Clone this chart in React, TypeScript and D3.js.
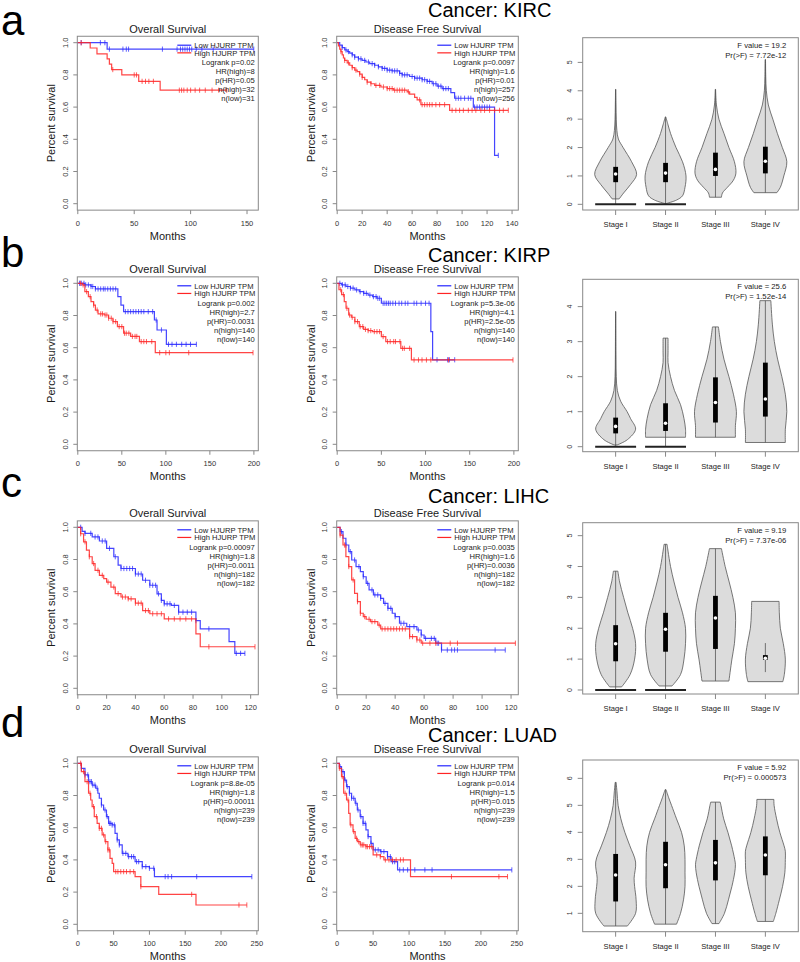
import React from "react";
import * as d3 from "d3";

const FONT = "'Liberation Sans', Arial, Helvetica, sans-serif";

const panelLetters = ["a", "b", "c", "d"];
const cancers = ["KIRC", "KIRP", "LIHC", "LUAD"];
const stageLabels = ["Stage I", "Stage II", "Stage III", "Stage IV"];
const legendLabels = ["Low HJURP TPM", "High HJURP TPM"];

// ---- KM statistics ----
const osStats = [
  ["Logrank p=0.02", "HR(high)=8", "p(HR)=0.05", "n(high)=32", "n(low)=31"],
  ["Logrank p=0.002", "HR(high)=2.7", "p(HR)=0.0031", "n(high)=140", "n(low)=140"],
  ["Logrank p=0.00097", "HR(high)=1.8", "p(HR)=0.0011", "n(high)=182", "n(low)=182"],
  ["Logrank p=8.8e-05", "HR(high)=1.8", "p(HR)=0.00011", "n(high)=239", "n(low)=239"],
];
const dfsStats = [
  ["Logrank p=0.0097", "HR(high)=1.6", "p(HR)=0.01", "n(high)=257", "n(low)=256"],
  ["Logrank p=5.3e-06", "HR(high)=4.1", "p(HR)=2.5e-05", "n(high)=140", "n(low)=140"],
  ["Logrank p=0.0035", "HR(high)=1.6", "p(HR)=0.0036", "n(high)=182", "n(low)=182"],
  ["Logrank p=0.014", "HR(high)=1.5", "p(HR)=0.015", "n(high)=239", "n(low)=239"],
];
const osXMax = [160, 205, 125.3, 252];
const dfsXMax = [145, 205, 125, 252];
const osXTicks = [[0, 50, 100, 150], [0, 50, 100, 150, 200], [0, 20, 40, 60, 80, 100, 120], [0, 50, 100, 150, 200, 250]];
const dfsXTicks = [[0, 20, 40, 60, 80, 100, 120, 140], [0, 50, 100, 150, 200], [0, 20, 40, 60, 80, 100, 120], [0, 50, 100, 150, 200, 250]];
const survTicks = [0, 0.2, 0.4, 0.6, 0.8, 1.0];

// ---- KM curves: [month, survival after drop], end month, censor months ----
const kircOsLow = [[26, 0.96]];
const kircOsLowEnd = 156;
const kircOsLowCens = [3, 20, 24, 28, 40, 43, 45, 75, 88, 91, 93, 95, 97, 99, 101, 105, 110, 120, 156];
const kircOsHigh = [[11, 0.967], [17, 0.93], [26, 0.9], [28, 0.867], [30, 0.833], [39, 0.8], [54, 0.76], [73, 0.705]];
const kircOsHighEnd = 132;
const kircOsHighCens = [3, 31, 50, 52, 57, 60, 63, 67, 90, 92, 94, 97, 100, 104, 108, 113, 119, 125, 132];

const kircDfsLow = [[2, 0.985], [4, 0.97], [6, 0.955], [8, 0.945], [10, 0.935], [12, 0.925], [14, 0.91], [17, 0.9], [20, 0.89], [23, 0.88], [26, 0.87], [30, 0.86], [33, 0.85], [36, 0.84], [40, 0.83], [44, 0.825], [50, 0.81], [52, 0.8], [58, 0.79], [62, 0.78], [68, 0.77], [72, 0.76], [76, 0.745], [80, 0.73], [84, 0.715], [91, 0.69], [94, 0.655], [109, 0.6], [126, 0.3]];
const kircDfsLowEnd = 129;
const kircDfsLowCens = [4, 7, 9, 12, 14, 17, 19, 22, 25, 28, 30, 33, 36, 38, 40, 42, 44, 46, 48, 50, 52, 54, 56, 60, 62, 64, 66, 68, 70, 72, 74, 77, 79, 81, 83, 85, 87, 89, 95, 97, 99, 102, 105, 107, 110, 112, 114, 116, 118, 120, 122, 129];
const kircDfsHigh = [[1, 0.98], [2, 0.96], [3, 0.945], [4, 0.925], [5, 0.905], [6, 0.89], [8, 0.875], [10, 0.86], [12, 0.845], [14, 0.83], [16, 0.82], [18, 0.805], [20, 0.785], [22, 0.77], [24, 0.755], [27, 0.745], [30, 0.735], [35, 0.725], [40, 0.715], [45, 0.705], [56, 0.695], [58, 0.68], [62, 0.66], [64, 0.645], [67, 0.615], [90, 0.58]];
const kircDfsHighEnd = 137;
const kircDfsHighCens = [3, 6, 9, 12, 15, 18, 20, 24, 27, 31, 34, 37, 40, 42, 44, 46, 48, 50, 52, 54, 57, 66, 68, 70, 72, 74, 76, 79, 82, 86, 92, 95, 98, 101, 105, 108, 111, 115, 118, 122, 126, 130, 133, 137];

const kirpOsLow = [[8, 0.99], [15, 0.98], [20, 0.965], [45.5, 0.917], [49, 0.865], [52, 0.824], [87, 0.772], [90, 0.71], [100.6, 0.621]];
const kirpOsLowEnd = 134.7;
const kirpOsLowCens = [2, 4, 7, 9, 12, 15, 17, 20, 23, 26, 29, 31, 34, 37, 40, 43, 54, 57, 60, 63, 66, 69, 72, 75, 80, 85, 89, 95, 103, 107, 112, 118, 123, 128, 134.7];
const kirpOsHigh = [[5, 0.99], [8, 0.948], [12, 0.917], [15, 0.886], [18, 0.865], [20, 0.834], [23, 0.81], [30, 0.803], [35, 0.783], [40, 0.762], [45, 0.731], [52, 0.69], [60, 0.67], [70, 0.638], [88, 0.569]];
const kirpOsHighEnd = 199;
const kirpOsHighCens = [3, 6, 10, 14, 18, 22, 26, 28, 31, 33, 35, 38, 40, 43, 47, 50, 53, 55, 58, 62, 65, 67, 72, 75, 78, 84, 93, 100, 104, 126, 199];

const kirpDfsLow = [[5, 0.99], [10, 0.98], [15, 0.97], [20, 0.959], [25, 0.948], [30, 0.938], [35, 0.927], [40, 0.917], [45, 0.907], [50, 0.876], [106, 0.7], [108, 0.525]];
const kirpDfsLowEnd = 133;
const kirpDfsLowCens = [3, 6, 9, 12, 15, 18, 22, 26, 30, 33, 37, 41, 44, 46, 48, 52, 54, 56, 58, 60, 63, 66, 70, 73, 77, 80, 87, 90, 95, 100, 104, 113, 125, 127, 133];
const kirpDfsHigh = [[2, 0.96], [5, 0.93], [8, 0.886], [10, 0.845], [13, 0.803], [16, 0.789], [20, 0.762], [25, 0.731], [30, 0.714], [35, 0.706], [40, 0.7], [50, 0.669], [55, 0.638], [72, 0.596], [84, 0.524]];
const kirpDfsHighEnd = 199;
const kirpDfsHighCens = [4, 7, 11, 14, 17, 20, 23, 26, 29, 32, 35, 38, 42, 45, 48, 52, 57, 60, 64, 66, 71, 74, 76, 82, 87, 92, 96, 101, 106, 126, 199];

const lihcOsLow = [[3, 0.975], [5, 0.9625], [10, 0.94], [15, 0.915], [20, 0.869], [25, 0.817], [28, 0.765], [30, 0.744], [40, 0.71], [45, 0.671], [50, 0.64], [55, 0.587], [58, 0.546], [60, 0.525], [65, 0.515], [70, 0.473], [82, 0.42], [85, 0.369], [105, 0.29], [109, 0.217]];
const lihcOsLowEnd = 116;
const lihcOsLowCens = [2, 5, 9, 12, 14, 17, 19, 22, 26, 30, 32, 34, 36, 38, 40, 42, 44, 47, 50, 52, 54, 56, 58, 60, 62, 64, 67, 70, 73, 76, 79, 82, 91, 110, 113, 116];
const lihcOsHigh = [[2, 0.96], [4, 0.91], [6, 0.858], [8, 0.817], [10, 0.775], [12, 0.733], [15, 0.702], [18, 0.681], [20, 0.66], [23, 0.629], [26, 0.588], [30, 0.567], [35, 0.556], [40, 0.529], [45, 0.483], [50, 0.463], [60, 0.431], [82, 0.3375], [85, 0.258]];
const lihcOsHighEnd = 123;
const lihcOsHighCens = [2, 5, 8, 11, 14, 17, 21, 25, 28, 31, 33, 35, 37, 40, 42, 44, 47, 49, 52, 55, 58, 63, 67, 71, 75, 79, 91, 123];

const lihcDfsLow = [[2, 0.973], [4, 0.932], [6, 0.89], [8, 0.849], [10, 0.797], [13, 0.756], [16, 0.725], [18, 0.693], [20, 0.652], [22, 0.611], [25, 0.58], [30, 0.559], [32, 0.528], [35, 0.497], [38, 0.466], [40, 0.445], [43, 0.404], [48, 0.383], [55, 0.362], [58, 0.331], [60, 0.31], [68, 0.28], [72, 0.238]];
const lihcDfsLowEnd = 116;
const lihcDfsLowCens = [3, 6, 9, 12, 15, 18, 21, 24, 26, 28, 30, 33, 35, 37, 40, 44, 46, 50, 53, 56, 58, 61, 65, 67, 69, 70, 72, 76, 79, 81, 83, 109, 116];
const lihcDfsHigh = [[2, 0.952], [4, 0.89], [6, 0.818], [8, 0.756], [10, 0.673], [12, 0.59], [14, 0.538], [16, 0.466], [18, 0.445], [20, 0.429], [23, 0.414], [28, 0.393], [30, 0.369], [50, 0.321], [55, 0.3], [58, 0.28]];
const lihcDfsHighEnd = 123;
const lihcDfsHighCens = [2, 5, 8, 11, 14, 16, 19, 22, 24, 26, 29, 31, 33, 35, 37, 39, 41, 43, 45, 47, 50, 52, 55, 57, 59, 64, 68, 78, 83, 123];

const luadOsLow = [[5, 0.969], [10, 0.928], [15, 0.886], [20, 0.865], [25, 0.845], [28, 0.814], [30, 0.783], [33, 0.741], [36, 0.71], [40, 0.669], [43, 0.627], [48, 0.617], [52, 0.565], [55, 0.524], [58, 0.493], [62, 0.441], [70, 0.42], [80, 0.389], [90, 0.358], [100, 0.348], [107, 0.296]];
const luadOsLowEnd = 243;
const luadOsLowCens = [5, 10, 14, 17, 19, 21, 24, 27, 33, 38, 41, 44, 46, 48, 51, 55, 58, 63, 67, 71, 75, 78, 82, 85, 90, 95, 100, 106, 122, 126, 131, 166, 243];
const luadOsHigh = [[5, 0.948], [10, 0.886], [15, 0.814], [18, 0.772], [20, 0.731], [23, 0.669], [27, 0.627], [30, 0.596], [34, 0.555], [38, 0.513], [42, 0.462], [45, 0.41], [48, 0.379], [50, 0.327], [80, 0.296], [88, 0.234], [113, 0.186], [165, 0.12]];
const luadOsHighEnd = 236;
const luadOsHighCens = [4, 8, 13, 17, 22, 26, 30, 33, 36, 39, 42, 44, 53, 56, 60, 64, 68, 73, 78, 88, 159, 225, 236];

const luadDfsLow = [[3, 0.979], [6, 0.948], [10, 0.896], [13, 0.855], [17, 0.814], [20, 0.783], [25, 0.752], [28, 0.71], [32, 0.669], [36, 0.627], [40, 0.586], [43, 0.545], [47, 0.503], [50, 0.462], [60, 0.451], [70, 0.42], [75, 0.389], [84, 0.338]];
const luadDfsLowEnd = 243;
const luadDfsLowCens = [4, 8, 11, 14, 17, 20, 23, 26, 29, 33, 36, 39, 43, 47, 53, 57, 61, 65, 70, 74, 77, 80, 87, 92, 98, 108, 122, 132, 243];
const luadDfsHigh = [[3, 0.969], [6, 0.917], [9, 0.814], [13, 0.772], [16, 0.689], [18, 0.617], [22, 0.576], [25, 0.534], [28, 0.513], [32, 0.493], [40, 0.482], [50, 0.431], [60, 0.42], [65, 0.4], [102, 0.296]];
const luadDfsHighEnd = 237;
const luadDfsHighCens = [3, 7, 11, 15, 19, 23, 27, 30, 33, 35, 37, 40, 42, 45, 48, 55, 60, 67, 72, 77, 82, 88, 92, 159, 225, 237];

const osCurves = [
  [[kircOsLow, kircOsLowEnd, kircOsLowCens], [kircOsHigh, kircOsHighEnd, kircOsHighCens]],
  [[kirpOsLow, kirpOsLowEnd, kirpOsLowCens], [kirpOsHigh, kirpOsHighEnd, kirpOsHighCens]],
  [[lihcOsLow, lihcOsLowEnd, lihcOsLowCens], [lihcOsHigh, lihcOsHighEnd, lihcOsHighCens]],
  [[luadOsLow, luadOsLowEnd, luadOsLowCens], [luadOsHigh, luadOsHighEnd, luadOsHighCens]],
];
const dfsCurves = [
  [[kircDfsLow, kircDfsLowEnd, kircDfsLowCens], [kircDfsHigh, kircDfsHighEnd, kircDfsHighCens]],
  [[kirpDfsLow, kirpDfsLowEnd, kirpDfsLowCens], [kirpDfsHigh, kirpDfsHighEnd, kirpDfsHighCens]],
  [[lihcDfsLow, lihcDfsLowEnd, lihcDfsLowCens], [lihcDfsHigh, lihcDfsHighEnd, lihcDfsHighCens]],
  [[luadDfsLow, luadDfsLowEnd, luadDfsLowCens], [luadDfsHigh, luadDfsHighEnd, luadDfsHighCens]],
];

// ---- Violin data: outline [value, half width in category units]; stats [lo, q1, median, q3, hi] ----
const fValues = ["19.2", "25.6", "9.19", "5.92"];
const prValues = ["7.72e-12", "1.52e-14", "7.37e-06", "0.000573"];
const vioYTicks = [[0, 1, 2, 3, 4, 5], [0, 1, 2, 3, 4], [0, 1, 2, 3, 4, 5], [1, 2, 3, 4, 5, 6]];
const vioYDomain = [[-0.2, 5.87], [-0.143, 4.78], [-0.13, 5.42], [0.32, 6.68]];

const kircViolins = [
  [[0.19, 0.07], [0.4, 0.16], [0.7, 0.3], [1.05, 0.42], [1.5, 0.32], [2.0, 0.15], [2.3, 0.055], [2.6, 0.025], [3.0, 0.012], [3.5, 0.006], [4.05, 0.002]],
  [[0.03, 0.02], [0.15, 0.22], [0.3, 0.34], [0.6, 0.39], [1.0, 0.41], [1.5, 0.34], [2.0, 0.21], [2.5, 0.1], [2.8, 0.05], [3.08, 0.005]],
  [[0.25, 0.12], [0.4, 0.14], [0.6, 0.24], [0.85, 0.36], [1.1, 0.41], [1.5, 0.38], [2.0, 0.27], [2.5, 0.17], [3.0, 0.07], [3.5, 0.02], [4.05, 0.003]],
  [[0.41, 0.23], [0.6, 0.3], [1.0, 0.37], [1.5, 0.43], [2.0, 0.34], [2.5, 0.24], [3.0, 0.15], [3.5, 0.06], [4.0, 0.02], [4.5, 0.008], [5.1, 0.003]],
];
const kircBoxStats = [[0, 0.78, 1.07, 1.32, 4.05], [0, 0.78, 1.1, 1.46, 3.08], [0.25, 1.0, 1.23, 1.82, 4.05], [0.41, 1.09, 1.52, 2.03, 5.1]];
const kirpViolins = [
  [[0.05, 0.03], [0.2, 0.235], [0.5, 0.4], [0.8, 0.3], [1.0, 0.23], [1.3, 0.1], [1.6, 0.035], [2.0, 0.012], [2.5, 0.006], [3.0, 0.004], [3.86, 0.002]],
  [[0.27, 0.4], [0.5, 0.4], [0.8, 0.37], [1.2, 0.3], [1.6, 0.18], [2.0, 0.1], [2.4, 0.05], [2.7, 0.05], [3.1, 0.05]],
  [[0.27, 0.4], [0.6, 0.4], [1.0, 0.42], [1.5, 0.36], [2.0, 0.27], [2.5, 0.17], [3.0, 0.1], [3.42, 0.06]],
  [[0.12, 0.4], [0.5, 0.4], [1.0, 0.43], [1.5, 0.4], [2.0, 0.33], [2.5, 0.245], [3.0, 0.18], [3.5, 0.14], [4.17, 0.11]],
];
const kirpBoxStats = [[0, 0.38, 0.58, 0.83, 3.86], [0, 0.45, 0.67, 1.24, 3.1], [0.27, 0.69, 1.26, 1.98, 3.42], [0.12, 0.86, 1.36, 2.4, 4.17]];
const lihcViolins = [
  [[0.1, 0.12], [0.5, 0.29], [1.0, 0.38], [1.5, 0.4], [2.0, 0.34], [2.5, 0.245], [3.0, 0.16], [3.5, 0.08], [3.85, 0.045]],
  [[0.13, 0.13], [0.5, 0.3], [1.0, 0.37], [1.5, 0.4], [2.0, 0.4], [2.5, 0.34], [3.0, 0.25], [3.5, 0.17], [4.0, 0.1], [4.5, 0.05], [4.72, 0.03]],
  [[0.29, 0.27], [1.0, 0.33], [1.5, 0.38], [2.0, 0.4], [2.5, 0.4], [3.0, 0.35], [3.5, 0.275], [4.0, 0.195], [4.58, 0.12]],
  [[0.27, 0.35], [0.5, 0.38], [1.0, 0.4], [1.5, 0.36], [2.0, 0.3], [2.5, 0.28], [2.87, 0.275]],
];
const lihcBoxStats = [[0, 0.93, 1.5, 2.1, 3.85], [0, 1.24, 1.97, 2.5, 4.72], [0.29, 1.33, 2.33, 3.05, 4.58], [0.58, 0.98, 1.03, 1.13, 1.52]];
const luadViolins = [
  [[0.53, 0.235], [1.0, 0.4], [1.5, 0.41], [2.0, 0.38], [2.3, 0.37], [2.9, 0.4], [3.5, 0.285], [4.0, 0.185], [4.5, 0.105], [5.0, 0.05], [5.5, 0.027], [5.85, 0.01]],
  [[0.6, 0.22], [1.0, 0.3], [1.5, 0.36], [2.0, 0.39], [2.5, 0.39], [3.0, 0.39], [3.5, 0.375], [4.0, 0.32], [4.5, 0.22], [5.0, 0.12], [5.3, 0.06], [5.58, 0.01]],
  [[0.62, 0.07], [1.0, 0.18], [1.5, 0.26], [2.0, 0.33], [2.5, 0.385], [2.8, 0.4], [3.0, 0.385], [3.5, 0.325], [4.0, 0.25], [4.5, 0.165], [5.0, 0.11], [5.12, 0.095]],
  [[0.7, 0.16], [1.0, 0.21], [1.5, 0.28], [2.0, 0.345], [2.5, 0.39], [3.0, 0.4], [3.3, 0.4], [3.5, 0.375], [4.0, 0.29], [4.5, 0.225], [5.0, 0.175], [5.22, 0.17]],
];
const luadBoxStats = [[0.53, 1.44, 2.42, 3.2, 5.85], [0.6, 1.93, 2.8, 3.65, 5.58], [0.62, 2.22, 2.87, 3.72, 5.12], [0.7, 2.41, 3.16, 3.85, 5.22]];
const zeroGroups = [[true, true, false, false], [true, true, false, false], [true, true, false, false], [false, false, false, false]];

const allViolins = [kircViolins, kirpViolins, lihcViolins, luadViolins];
const allBoxStats = [kircBoxStats, kirpBoxStats, lihcBoxStats, luadBoxStats];

// ---- layout ----
const W = 800, H = 962;
const rowY1 = [42.7, 283.3, 527.3, 763.3];
const KM_SPAN = 161;
const LEFT_BOX = [77.3, 258.3];
const MID_BOX = [336.7, 518.3];
const VIO_BOX_X = [582.7, 798.3];
const vioBoxY = [[37.7, 210], [279.3, 451.7], [522.7, 694], [760, 931.7]];
const letterY = [35, 267, 497, 737];
const cancerY = [17, 262, 503, 742];

const BLUE = "#2424ff";
const RED = "#ff2424";
const AXIS = "#888";
const TXT = "#1a1a1a";

function survAt(steps: number[][], t: number) {
  let s = 1;
  for (const [st, sv] of steps) {
    if (st <= t) s = sv;
    else break;
  }
  return s;
}

function KMPanel({ box, y1, xMax, xTicks, title, curves, stats }: any) {
  const [bl, br] = box;
  const top = y1 - 0.04 * KM_SPAN;
  const bottom = y1 + KM_SPAN + 0.04 * KM_SPAN;
  const xs = d3.scaleLinear().domain([0, xMax]).range([bl + 0.5, br]);
  const ys = d3.scaleLinear().domain([-0.04, 1.04]).range([bottom, top]);
  const line = d3
    .line<number[]>()
    .x((d) => xs(d[0]))
    .y((d) => ys(d[1]))
    .curve(d3.curveStepAfter);
  const cx = (bl + br) / 2;
  const colors = [BLUE, RED];
  const legY = ys(1) + 2.5;
  const lh = 9;
  return (
    <g>
      <text x={cx} y={top - 3.5} textAnchor="middle" fontSize={11} fill={TXT}>{title}</text>
      <rect x={bl} y={top} width={br - bl} height={bottom - top} fill="none" stroke={AXIS} strokeWidth={1} />
      {survTicks.map((v) => (
        <g key={v}>
          <line x1={bl - 4} x2={bl} y1={ys(v)} y2={ys(v)} stroke={AXIS} />
          <text transform={`translate(${bl - 9.5},${ys(v)}) rotate(-90)`} textAnchor="middle" fontSize={7.5} fill="#333">{v.toFixed(1)}</text>
        </g>
      ))}
      {xTicks.map((v: number) => (
        <g key={v}>
          <line x1={xs(v)} x2={xs(v)} y1={bottom} y2={bottom + 4} stroke={AXIS} />
          <text x={xs(v)} y={bottom + 15.5} textAnchor="middle" fontSize={7.5} fill="#333">{v}</text>
        </g>
      ))}
      <text transform={`translate(${bl - 22},${(top + bottom) / 2}) rotate(-90)`} textAnchor="middle" fontSize={11} fill={TXT}>Percent survival</text>
      <text x={cx} y={bottom + 29.5} textAnchor="middle" fontSize={11} fill={TXT}>Months</text>
      {curves.map((c: any, i: number) => {
        const [steps, end, cens] = c;
        const last = steps.length ? steps[steps.length - 1][1] : 1;
        const pts = [[0, 1], ...steps, [end, last]];
        return (
          <g key={i}>
            <path d={line(pts) || ""} fill="none" stroke={colors[i]} strokeWidth={1.2} strokeOpacity={0.85} />
            {cens.map((t: number, j: number) => {
              const s = survAt(steps, t);
              return <line key={j} x1={xs(t)} x2={xs(t)} y1={ys(s) - 2.6} y2={ys(s) + 2.6} stroke={colors[i]} strokeWidth={0.9} strokeOpacity={0.8} />;
            })}
          </g>
        );
      })}
      {legendLabels.map((lab, i) => (
        <g key={lab}>
          <line x1={br - 81} x2={br - 67} y1={legY + i * lh * 0.85} y2={legY + i * lh * 0.85} stroke={colors[i]} strokeWidth={1.2} />
          <text x={br - 64} y={legY + i * lh * 0.85 + 2.7} fontSize={7.6} fill="#222">{lab}</text>
        </g>
      ))}
      {stats.map((s: string, i: number) => (
        <text key={s} x={br - 3.5} y={legY + (i + 2) * lh - 1 + 2.7} textAnchor="end" fontSize={7.6} fill="#222">{s}</text>
      ))}
    </g>
  );
}

function ViolinPanel({ row }: { row: number }) {
  const [bt, bb] = vioBoxY[row];
  const xs = d3.scaleLinear().domain([0.34, 4.66]).range(VIO_BOX_X);
  const ys = d3.scaleLinear().domain(vioYDomain[row]).range([bb, bt]);
  const unit = xs(1) - xs(0);
  const violins = allViolins[row];
  const stats = allBoxStats[row];
  const [bl, br] = VIO_BOX_X;
  return (
    <g>
      <rect x={bl} y={bt} width={br - bl} height={bb - bt} fill="none" stroke={AXIS} strokeWidth={1} />
      {vioYTicks[row].map((v) => (
        <g key={v}>
          <line x1={bl - 5} x2={bl} y1={ys(v)} y2={ys(v)} stroke={AXIS} />
          <text transform={`translate(${bl - 11},${ys(v)}) rotate(-90)`} textAnchor="middle" fontSize={7} fill="#333">{v}</text>
        </g>
      ))}
      {stageLabels.map((lab, i) => (
        <g key={lab}>
          <line x1={xs(i + 1)} x2={xs(i + 1)} y1={bb} y2={bb + 5} stroke={AXIS} />
          <text x={xs(i + 1)} y={bb + 17} textAnchor="middle" fontSize={7.6} fill="#222">{lab}</text>
        </g>
      ))}
      {violins.map((outline, i) => {
        const c = i + 1;
        const area = d3
          .area<number[]>()
          .y((d) => ys(d[0]))
          .x0((d) => xs(c - d[1]))
          .x1((d) => xs(c + d[1]))
          .curve(d3.curveCatmullRom);
        const [lo, q1, med, q3, hi] = stats[i];
        return (
          <g key={i}>
            <path d={area(outline) || ""} fill="#dcdcdc" stroke="#555" strokeWidth={0.8} />
            <line x1={xs(c)} x2={xs(c)} y1={ys(lo)} y2={ys(hi)} stroke="#555" strokeWidth={0.8} />
            {zeroGroups[row][i] && (
              <line x1={xs(c) - 0.41 * unit} x2={xs(c) + 0.41 * unit} y1={ys(0)} y2={ys(0)} stroke="#222" strokeWidth={2} />
            )}
            <rect x={xs(c) - 2.4} y={ys(q3)} width={4.8} height={ys(q1) - ys(q3)} fill="#000" />
            <circle cx={xs(c)} cy={ys(med)} r={1.8} fill="#fff" />
          </g>
        );
      })}
      <text x={br - 12} y={bt + 9.8} textAnchor="end" fontSize={7.7} fill="#222">{`F value = ${fValues[row]}`}</text>
      <text x={br - 12} y={bt + 19.8} textAnchor="end" fontSize={7.7} fill="#222">{`Pr(>F) = ${prValues[row]}`}</text>
    </g>
  );
}

export default function App() {
  return (
    <svg width={W} height={H} viewBox={`0 0 ${W} ${H}`} style={{ position: "absolute", left: 0, top: 0, background: "#fff" }} fontFamily={FONT}>
      <rect x={0} y={0} width={W} height={H} fill="#fff" />
      {rowY1.map((y1, r) => (
        <g key={r}>
          <text x={1} y={letterY[r]} fontSize={42} fill="#000">{panelLetters[r]}</text>
          <text x={428} y={cancerY[r]} fontSize={20} fill="#000">{`Cancer: ${cancers[r]}`}</text>
          <KMPanel box={LEFT_BOX} y1={y1} xMax={osXMax[r]} xTicks={osXTicks[r]} title="Overall Survival" curves={osCurves[r]} stats={osStats[r]} />
          <KMPanel box={MID_BOX} y1={y1} xMax={dfsXMax[r]} xTicks={dfsXTicks[r]} title="Disease Free Survival" curves={dfsCurves[r]} stats={dfsStats[r]} />
          <ViolinPanel row={r} />
        </g>
      ))}
    </svg>
  );
}
